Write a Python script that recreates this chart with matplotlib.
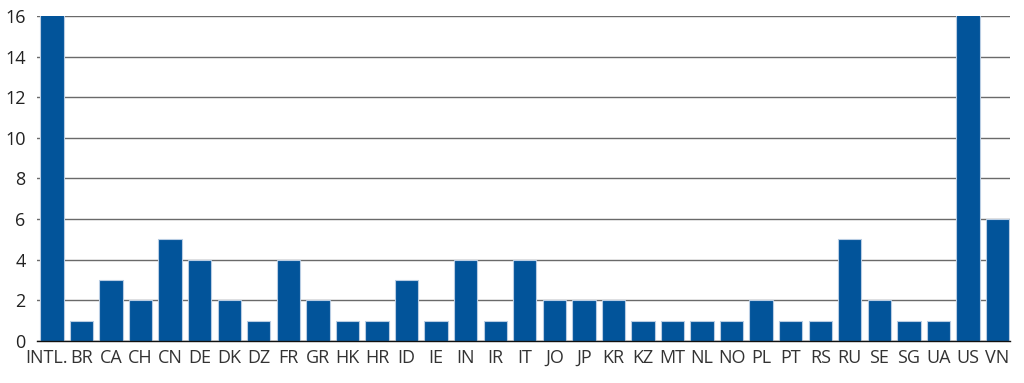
import matplotlib
matplotlib.use("Agg")
import matplotlib.pyplot as plt
from matplotlib.transforms import ScaledTranslation

categories = ["INTL.", "BR", "CA", "CH", "CN", "DE", "DK", "DZ", "FR", "GR", "HK", "HR",
              "ID", "IE", "IN", "IR", "IT", "JO", "JP", "KR", "KZ", "MT", "NL", "NO",
              "PL", "PT", "RS", "RU", "SE", "SG", "UA", "US", "VN"]
values = [20, 1, 3, 2, 5, 4, 2, 1, 4, 2, 1, 1,
          3, 1, 4, 1, 4, 2, 2, 2, 1, 1, 1, 1,
          2, 1, 1, 5, 2, 1, 1, 20, 6]
yticks = [0, 2, 4, 6, 8, 10, 12, 14, 16]

plt.rcParams['font.family'] = ['Open Sans', 'DejaVu Sans']
fig = plt.figure(figsize=(10.24, 3.83), dpi=100)
ax = fig.add_axes([0.0358, 0.110, 0.9505, 0.848])

x = list(range(len(categories)))
ax.bar(x, values, width=0.79, color="#02549a", edgecolor="#b9cde3", linewidth=0.8, zorder=3)

ax.set_ylim(0, 16)
ax.set_xlim(-0.518, len(categories) - 1 + 0.42)
ax.set_yticks(yticks)
ax.set_yticklabels([str(t) for t in yticks], fontsize=13, color="#222222")
ax.set_xticks(x)
ax.set_xticklabels(categories, fontsize=13, color="#333333")
ax.yaxis.grid(True, color="#6a6a6a", linewidth=1.0, zorder=0)
ax.tick_params(axis='both', length=0)
ax.tick_params(axis='x', pad=6)
ax.tick_params(axis='y', pad=8)
for s in ["left", "right", "top"]:
    ax.spines[s].set_visible(False)
ax.spines["bottom"].set_color("#111111")
ax.spines["bottom"].set_linewidth(1.0)
ax.spines["bottom"].set_zorder(4)

# nudge the first label slightly left so it doesn't crowd its neighbour
first = ax.get_xticklabels()[0]
first.set_transform(first.get_transform() + ScaledTranslation(-5 / 100, 0, fig.dpi_scale_trans))

fig.savefig("out.png", dpi=100)
